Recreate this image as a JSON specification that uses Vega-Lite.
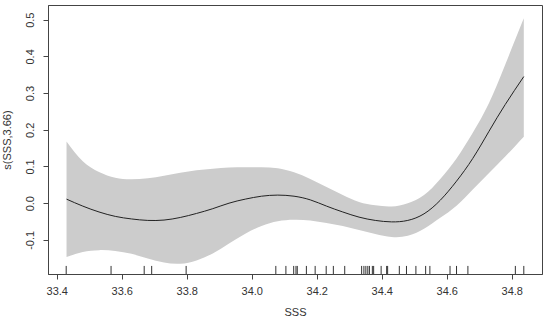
{
  "$schema": "https://vega.github.io/schema/vega-lite/v6.json",
  "autosize": "none",
  "width": 494,
  "height": 269,
  "padding": {"left": 48, "top": 5, "right": 8, "bottom": 50},
  "background": "white",
  "config": {
    "font": "Liberation Sans",
    "view": {"stroke": "#444", "strokeWidth": 1},
    "axis": {
      "grid": false,
      "domainColor": "#444",
      "tickColor": "#444",
      "tickSize": 5,
      "labelColor": "#333",
      "titleColor": "#333",
      "labelFontSize": 11,
      "titleFontSize": 11,
      "titleFontWeight": "normal"
    }
  },
  "datasets": {
    "curve": [
      {"SSS": 33.43, "fit": 0.011, "lo": -0.147, "hi": 0.168},
      {"SSS": 33.48, "fit": -0.008, "lo": -0.133, "hi": 0.114},
      {"SSS": 33.53, "fit": -0.024, "lo": -0.128, "hi": 0.085},
      {"SSS": 33.58, "fit": -0.036, "lo": -0.130, "hi": 0.069},
      {"SSS": 33.63, "fit": -0.043, "lo": -0.138, "hi": 0.065},
      {"SSS": 33.68, "fit": -0.047, "lo": -0.151, "hi": 0.068},
      {"SSS": 33.73, "fit": -0.046, "lo": -0.162, "hi": 0.075},
      {"SSS": 33.78, "fit": -0.039, "lo": -0.165, "hi": 0.083},
      {"SSS": 33.83, "fit": -0.028, "lo": -0.156, "hi": 0.090},
      {"SSS": 33.88, "fit": -0.015, "lo": -0.137, "hi": 0.094},
      {"SSS": 33.93, "fit": 0.000, "lo": -0.110, "hi": 0.097},
      {"SSS": 33.98, "fit": 0.011, "lo": -0.083, "hi": 0.098},
      {"SSS": 34.03, "fit": 0.019, "lo": -0.062, "hi": 0.098},
      {"SSS": 34.08, "fit": 0.022, "lo": -0.049, "hi": 0.095},
      {"SSS": 34.13, "fit": 0.019, "lo": -0.045, "hi": 0.084},
      {"SSS": 34.18, "fit": 0.009, "lo": -0.047, "hi": 0.066},
      {"SSS": 34.23, "fit": -0.008, "lo": -0.054, "hi": 0.044},
      {"SSS": 34.28, "fit": -0.024, "lo": -0.062, "hi": 0.022},
      {"SSS": 34.33, "fit": -0.038, "lo": -0.073, "hi": 0.003},
      {"SSS": 34.38, "fit": -0.047, "lo": -0.084, "hi": -0.006},
      {"SSS": 34.43, "fit": -0.051, "lo": -0.092, "hi": -0.009},
      {"SSS": 34.48, "fit": -0.047, "lo": -0.089, "hi": 0.000},
      {"SSS": 34.53, "fit": -0.029, "lo": -0.070, "hi": 0.022},
      {"SSS": 34.58, "fit": 0.008, "lo": -0.040, "hi": 0.066},
      {"SSS": 34.63, "fit": 0.060, "lo": -0.007, "hi": 0.122},
      {"SSS": 34.68, "fit": 0.122, "lo": 0.037, "hi": 0.192},
      {"SSS": 34.73, "fit": 0.196, "lo": 0.082, "hi": 0.273},
      {"SSS": 34.78, "fit": 0.269, "lo": 0.127, "hi": 0.378},
      {"SSS": 34.837, "fit": 0.345, "lo": 0.181, "hi": 0.504}
    ],
    "rug": [
      {"SSS": 33.429}, {"SSS": 33.567}, {"SSS": 33.669}, {"SSS": 33.692}, {"SSS": 33.798},
      {"SSS": 34.074}, {"SSS": 34.105}, {"SSS": 34.129}, {"SSS": 34.136}, {"SSS": 34.140},
      {"SSS": 34.168}, {"SSS": 34.195}, {"SSS": 34.229}, {"SSS": 34.251}, {"SSS": 34.286},
      {"SSS": 34.338}, {"SSS": 34.345}, {"SSS": 34.351}, {"SSS": 34.357}, {"SSS": 34.362},
      {"SSS": 34.371}, {"SSS": 34.375}, {"SSS": 34.398}, {"SSS": 34.415}, {"SSS": 34.418},
      {"SSS": 34.454}, {"SSS": 34.476}, {"SSS": 34.505}, {"SSS": 34.535}, {"SSS": 34.548},
      {"SSS": 34.610}, {"SSS": 34.630}, {"SSS": 34.665}, {"SSS": 34.811}, {"SSS": 34.837}
    ]
  },
  "layer": [
    {
      "data": {"name": "curve"},
      "mark": {"type": "area", "color": "#cccccc", "interpolate": "natural"},
      "encoding": {
        "x": {"field": "SSS", "type": "quantitative",
              "scale": {"domain": [33.373, 34.893], "nice": false, "zero": false},
              "axis": {"values": [33.4, 33.6, 33.8, 34.0, 34.2, 34.4, 34.6, 34.8], "format": ".1f", "labelPadding": 6, "titlePadding": 10, "title": "SSS"}},
        "y": {"field": "lo", "type": "quantitative",
              "scale": {"domain": [-0.193, 0.54], "nice": false, "zero": false},
              "axis": {"values": [-0.1, 0, 0.1, 0.2, 0.3, 0.4, 0.5],
                       "labelExpr": "replace(format(datum.value, '.1f'), '\u2212', '-')",
                       "labelAngle": 270, "labelAlign": "center", "labelBaseline": "bottom",
                       "labelPadding": 8, "titlePadding": 12, "title": "s(SSS,3.66)"}},
        "y2": {"field": "hi"}
      }
    },
    {
      "data": {"name": "curve"},
      "mark": {"type": "line", "color": "#222", "strokeWidth": 1, "interpolate": "natural"},
      "encoding": {
        "x": {"field": "SSS", "type": "quantitative"},
        "y": {"field": "fit", "type": "quantitative"}
      }
    },
    {
      "data": {"name": "rug"},
      "mark": {"type": "rule", "color": "#333", "strokeWidth": 1},
      "encoding": {
        "x": {"field": "SSS", "type": "quantitative"},
        "y": {"datum": -0.193},
        "y2": {"datum": -0.171}
      }
    }
  ]
}
